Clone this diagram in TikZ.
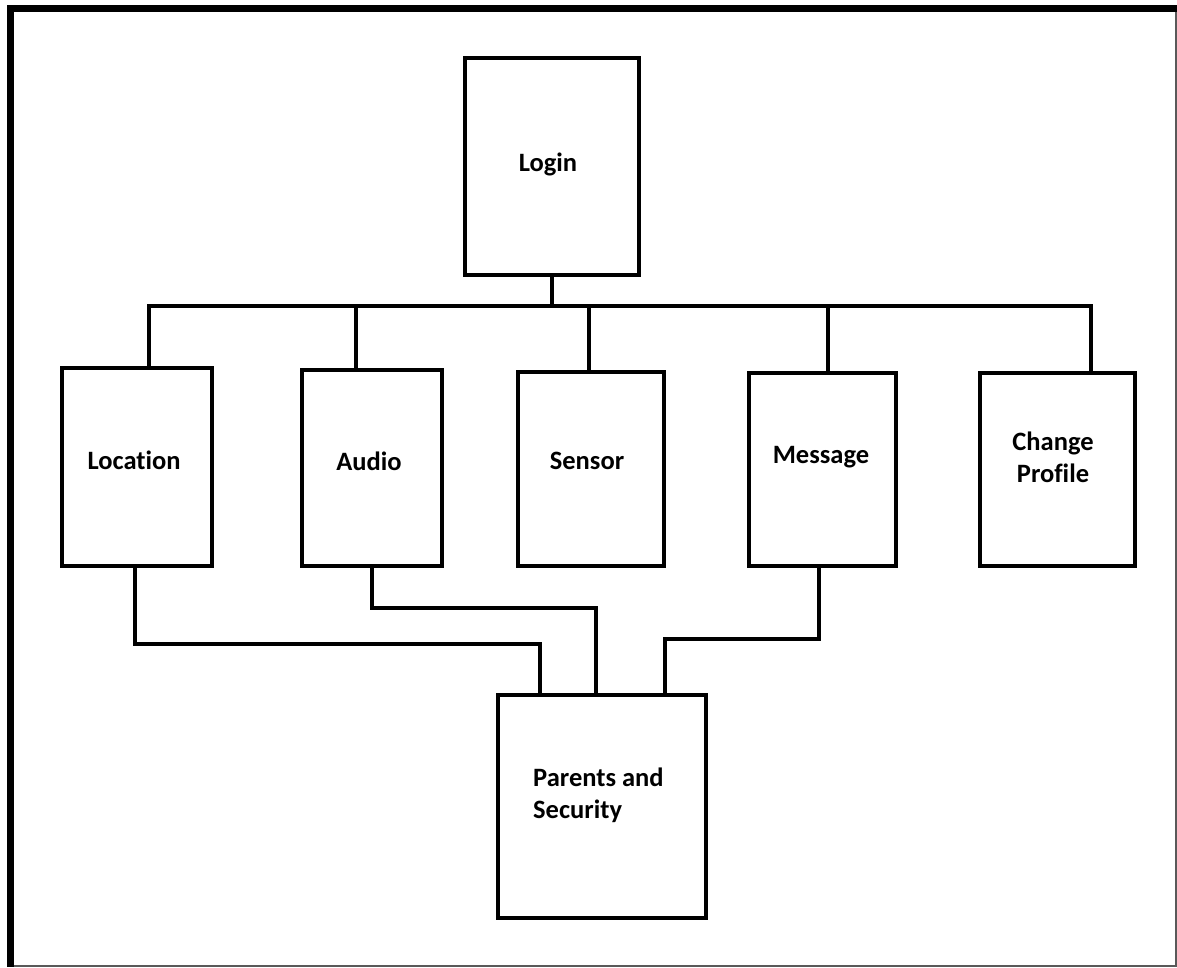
\documentclass[tikz,border=0pt]{standalone}
\usepackage{fontspec}
\setmainfont[Ligatures={NoCommon}]{Carlito}
\begin{document}
\begin{tikzpicture}[x=1pt,y=-1pt,
  box/.style={draw=black,line width=3.5pt,rectangle,inner sep=0pt,fill=white},
  lbl/.style={font=\fontsize{26.5}{32}\selectfont\bfseries,inner sep=0pt,align=center},
  conn/.style={draw=black,line width=3.5pt,line cap=rect,line join=miter}]
\useasboundingbox (0,0) rectangle (1177,967);
% frame
\fill[black] (7,5) rectangle (14,967);
\fill[black] (7,5) rectangle (1177,12);
\draw[gray!70!black,line width=1.5pt] (1176,12) -- (1176,966) -- (14,966);
% boxes
\node[box,minimum width=174pt,minimum height=217pt] (login) at (552,166.5) {};
\node[box,minimum width=150pt,minimum height=198pt] (loc) at (137,467) {};
\node[box,minimum width=140pt,minimum height=196pt] (audio) at (372,468) {};
\node[box,minimum width=146pt,minimum height=194pt] (sensor) at (591,469) {};
\node[box,minimum width=147pt,minimum height=193pt] (msg) at (822.5,469.5) {};
\node[box,minimum width=155pt,minimum height=193pt] (chg) at (1057.5,469.5) {};
\node[box,minimum width=208pt,minimum height=223pt] (par) at (602,806.5) {};
% labels
\node[lbl] (tlogin) at (548,164) {Login};
\node[lbl] (tloc) at (134,460) {Location};
\node[lbl] (taudio) at (369,461) {Audio};
\node[lbl] (tsensor) at (587,461) {Sensor};
\node[lbl] (tmsg) at (821,457) {Message};
\node[lbl] (tchg) at (1053,457) {Change\\Profile};
\node[lbl,align=left,anchor=west] (tpar) at (533,795) {Parents and\\Security};
% bus
\coordinate (busL) at (149,306);
\coordinate (busR) at (1091,306);
\coordinate (busA) at (356,306);
\coordinate (busS) at (589,306);
\coordinate (busM) at (828,306);
\coordinate (locX) at (135,0);
\coordinate (audX) at (372,0);
\coordinate (msgX) at (819,0);
\coordinate (p1) at (540,644);
\coordinate (p2) at (596,608);
\coordinate (p3) at (665,639);
\draw[conn] (login.south) -- (login.south |- busL);
\draw[conn] (busL) -- (busR);
\draw[conn] (busL) -- (busL |- loc.north);
\draw[conn] (busA) -- (busA |- audio.north);
\draw[conn] (busS) -- (busS |- sensor.north);
\draw[conn] (busM) -- (busM |- msg.north);
\draw[conn] (busR) -- (busR |- chg.north);
% lower connectors
\draw[conn] (locX |- loc.south) |- (p1) -- (p1 |- par.north);
\draw[conn] (audX |- audio.south) |- (p2) -- (p2 |- par.north);
\draw[conn] (msgX |- msg.south) |- (p3) -- (p3 |- par.north);
\end{tikzpicture}
\end{document}
